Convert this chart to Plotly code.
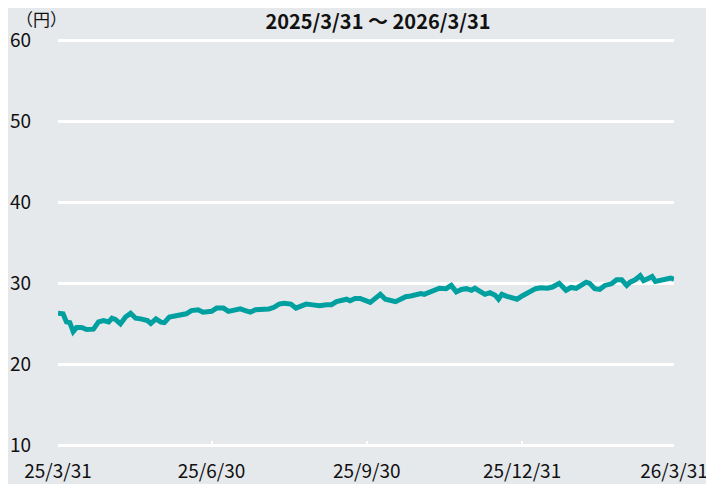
import plotly.graph_objects as go

# daily close (円)
dates = [
    "2025-03-31", "2025-04-03", "2025-04-05", "2025-04-07", "2025-04-09", "2025-04-11",
    "2025-04-14", "2025-04-17", "2025-04-21", "2025-04-24", "2025-04-27", "2025-04-30",
    "2025-05-02", "2025-05-04", "2025-05-07", "2025-05-10", "2025-05-13", "2025-05-16",
    "2025-05-19", "2025-05-23", "2025-05-25", "2025-05-28", "2025-05-31", "2025-06-02",
    "2025-06-05", "2025-06-09", "2025-06-12", "2025-06-15", "2025-06-18", "2025-06-22",
    "2025-06-25", "2025-06-28", "2025-06-30", "2025-07-03", "2025-07-07", "2025-07-10",
    "2025-07-13", "2025-07-17", "2025-07-20", "2025-07-23", "2025-07-26", "2025-07-30",
    "2025-08-03", "2025-08-06", "2025-08-09", "2025-08-12", "2025-08-16", "2025-08-19",
    "2025-08-22", "2025-08-25", "2025-08-29", "2025-09-02", "2025-09-06", "2025-09-09",
    "2025-09-12", "2025-09-15", "2025-09-18", "2025-09-20", "2025-09-23", "2025-09-26",
    "2025-09-29", "2025-10-02", "2025-10-05", "2025-10-08", "2025-10-11", "2025-10-14",
    "2025-10-17", "2025-10-20", "2025-10-23", "2025-10-26", "2025-10-29", "2025-11-01",
    "2025-11-03", "2025-11-06", "2025-11-09", "2025-11-12", "2025-11-16", "2025-11-19",
    "2025-11-22", "2025-11-25", "2025-11-28", "2025-12-01", "2025-12-03", "2025-12-06",
    "2025-12-09", "2025-12-12", "2025-12-15", "2025-12-17", "2025-12-19", "2025-12-22",
    "2025-12-25", "2025-12-28", "2025-12-31", "2026-01-04", "2026-01-08", "2026-01-11",
    "2026-01-15", "2026-01-18", "2026-01-22", "2026-01-26", "2026-01-29", "2026-02-01",
    "2026-02-04", "2026-02-07", "2026-02-09", "2026-02-12", "2026-02-15", "2026-02-18",
    "2026-02-22", "2026-02-25", "2026-02-28", "2026-03-03", "2026-03-05", "2026-03-08",
    "2026-03-11", "2026-03-13", "2026-03-16", "2026-03-18", "2026-03-20", "2026-03-23",
    "2026-03-26", "2026-03-29", "2026-03-31",
]
prices = [
    26.27, 26.2, 25.2, 25.1, 24.0, 24.5,
    24.5, 24.25, 24.3, 25.2, 25.36, 25.2,
    25.65, 25.5, 24.95, 25.8, 26.27, 25.65,
    25.57, 25.36, 25.0, 25.57, 25.16, 25.1,
    25.8, 26.0, 26.1, 26.2, 26.6, 26.7,
    26.4, 26.5, 26.5, 26.9, 26.9, 26.5,
    26.6, 26.8, 26.6, 26.4, 26.7, 26.7,
    26.8, 27.0, 27.4, 27.5, 27.4, 26.9,
    27.2, 27.4, 27.3, 27.2, 27.3, 27.3,
    27.7, 27.8, 28.0, 27.8, 28.1, 28.1,
    27.9, 27.6, 28.1, 28.6, 28.0, 27.8,
    27.7, 28.0, 28.3, 28.4, 28.5, 28.7,
    28.6, 28.85, 29.2, 29.35, 29.3, 29.7,
    28.9, 29.2, 29.3, 29.1, 29.35, 28.9,
    28.6, 28.8, 28.5, 28.0, 28.6, 28.35,
    28.25, 28.0, 28.4, 28.9, 29.3, 29.4,
    29.35, 29.5, 29.96, 29.1, 29.45, 29.35,
    29.8, 30.1, 29.96, 29.3, 29.2, 29.7,
    29.9, 30.4, 30.4, 29.7, 30.1, 30.4,
    30.9, 30.3, 30.6, 30.8, 30.2, 30.3,
    30.5, 30.6, 30.5,
]

tick_dates = ["2025-03-31", "2025-06-30", "2025-09-30", "2025-12-31", "2026-03-31"]
tick_text = ["25/3/31", "25/6/30", "25/9/30", "25/12/31", "26/3/31"]
y_ticks = [10, 20, 30, 40, 50, 60]
title_text = "2025/3/31 ～ 2026/3/31"
unit_text = "（円）"

BG = "#E6E9EC"
FONT = "Noto Sans CJK JP"

# the page body adds an 8px margin, so the figure is 8px smaller each way
W, H = 706, 476
L, R, T, B = 50, 40, 30, 37
pad = 2 / 8.1  # keep the 10 and 60 gridlines off the plot edges

fig = go.Figure()
fig.add_trace(go.Scatter(x=dates, y=prices, mode="lines",
                         line=dict(color="#00A0A0", width=5), hoverinfo="skip"))

fig.update_layout(
    width=W, height=H,
    margin=dict(l=L, r=R, t=T, b=B, autoexpand=False),
    paper_bgcolor=BG, plot_bgcolor=BG,
    showlegend=False,
    font=dict(family=FONT, size=20, color="#111111"),
    title=dict(text="<b>" + title_text + "</b>", x=370 / W, xanchor="center",
               y=1 - 14 / H, yanchor="middle", yref="container",
               font=dict(family=FONT, size=20, color="#111111")),
)
fig.add_annotation(text=unit_text, xref="paper", yref="paper",
                   x=-44 / 616, xanchor="left", y=1 + 20 / 409, yanchor="middle",
                   showarrow=False, font=dict(family=FONT, size=17, color="#111111"))

fig.update_xaxes(range=["2025-03-31", "2026-03-31"], tickvals=tick_dates, ticktext=tick_text,
                 showgrid=False, zeroline=False, showline=False, automargin=False,
                 ticks="inside", ticklen=6, tickwidth=2, tickcolor="white",
                 ticklabelstandoff=11, tickfont=dict(size=19))
fig.update_yaxes(range=[10 - pad, 60 + pad], tickvals=y_ticks,
                 showgrid=True, gridcolor="white", gridwidth=2.5,
                 zeroline=False, showline=False, ticks="", automargin=False,
                 ticklabelstandoff=26, tickfont=dict(size=19))

fig.write_html("out.html")
